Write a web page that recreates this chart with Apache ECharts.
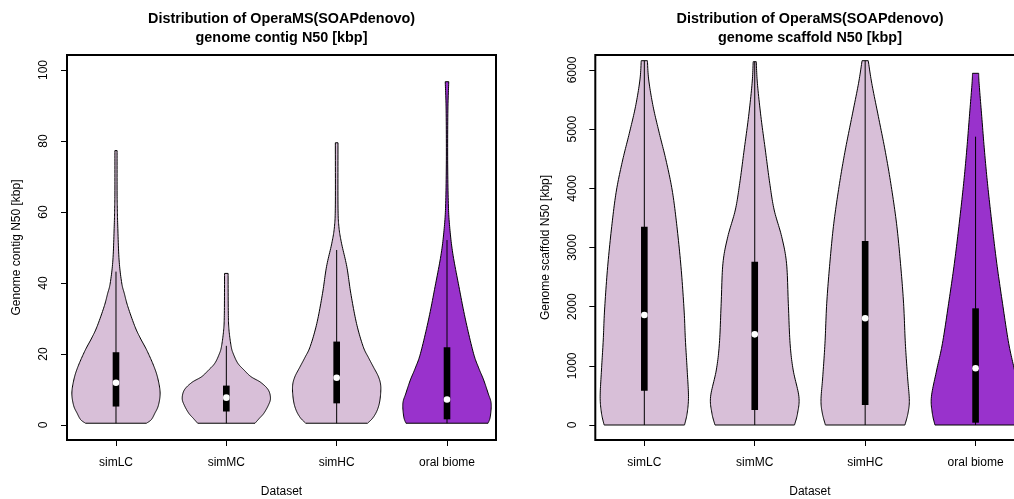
<!DOCTYPE html>
<html><head><meta charset="utf-8">
<script src="https://cdn.jsdelivr.net/npm/echarts@6/dist/echarts.min.js"></script>
<style>html,body{margin:0;padding:0;background:#fff}#c{width:1014px;height:499px}</style>
</head><body><div id="c"></div>
<script>
const categories = ['simLC', 'simMC', 'simHC', 'oral biome'];
const violinColors = ['#D8BFD8', '#D8BFD8', '#D8BFD8', '#9932CC'];

// Contig N50 violin outlines: [value (kbp), relative half-width]
const contigSimLC = [[0.5,0.69],[1.5,0.8],[3.3,0.88],[5.5,0.96],[9,1.0],[13,0.95],[16.5,0.86],[21,0.7],[24.5,0.55],[27.7,0.43],[33.3,0.27],[37,0.19],[40,0.13],[46.5,0.07],[56,0.04],[61,0.03],[66,0.025],[77.3,0.025]];
const contigSimMC = [[0.5,0.65],[1.9,0.75],[3.3,0.85],[5.5,0.95],[7.5,1.0],[9.9,0.95],[12,0.78],[13.6,0.56],[15.5,0.4],[17.4,0.26],[20,0.16],[22.1,0.11],[26.8,0.06],[31.5,0.045],[42.7,0.04]];
const contigSimHC = [[0.5,0.7],[2,0.82],[4.2,0.92],[7,0.98],[10.8,1.0],[13.5,0.95],[16.4,0.83],[19,0.72],[22.1,0.6],[28.6,0.45],[37.1,0.32],[44.6,0.23],[51.2,0.11],[55.9,0.05],[62,0.03],[79.5,0.03]];
const contigOral = [[0.5,0.93],[2.3,0.98],[6.1,1.0],[9,0.93],[12.7,0.83],[16,0.72],[20.2,0.6],[29.6,0.42],[39,0.27],[48.4,0.13],[55.9,0.06],[62.4,0.03],[74.6,0.015],[88.7,0.02],[96.7,0.04]];

const contigWhiskerLow = [0.5, 0.5, 0.5, 0.5];
const contigQ1 = [5.2, 3.8, 6.1, 1.6];
const contigMedian = [11.9, 7.7, 13.3, 7.2];
const contigQ3 = [20.5, 11.1, 23.5, 21.9];
const contigWhiskerHigh = [43.2, 22.3, 49.3, 52.1];
const contigTicks = [0, 20, 40, 60, 80, 100];

// Scaffold N50 violin outlines: [value (kbp), relative half-width]
const scaffoldSimLC = [[0,0.91],[200,0.97],[478,1.0],[930,0.97],[1437,0.93],[1944,0.9],[2676,0.83],[3409,0.73],[3972,0.63],[4479,0.49],[4930,0.34],[5380,0.2],[5831,0.1],[6157,0.07]];
const scaffoldSimMC = [[0,0.9],[200,0.97],[478,1.0],[930,0.87],[1380,0.8],[2057,0.76],[2733,0.72],[3183,0.61],[3634,0.44],[4085,0.34],[4648,0.24],[5211,0.14],[5775,0.06],[6140,0.035]];
const scaffoldSimHC = [[0,0.9],[200,0.97],[422,1.0],[817,0.96],[1380,0.91],[2057,0.87],[2733,0.8],[3409,0.71],[4085,0.58],[4648,0.45],[5211,0.3],[5775,0.15],[6157,0.07]];
const scaffoldOral = [[0,0.92],[200,0.98],[478,1.0],[930,0.88],[1380,0.75],[2057,0.61],[2733,0.48],[3409,0.37],[4085,0.27],[4648,0.2],[5211,0.14],[5775,0.08],[5944,0.07]];

const scaffoldWhiskerLow = [0, 0, 0, 0];
const scaffoldQ1 = [580, 254, 338, 39];
const scaffoldMedian = [1859, 1532, 1803, 958];
const scaffoldQ3 = [3352, 2760, 3110, 1972];
const scaffoldWhiskerHigh = [6157, 6140, 6157, 4873];
const scaffoldTicks = [0, 1000, 2000, 3000, 4000, 5000, 6000];

const FONT = "'Liberation Sans', Arial, Helvetica, sans-serif";
const HALF = 0.4;     // max violin half-width, in category units
const BOXHALF = 0.03; // box half-width, in category units

function catmull(pts, n) {
  const out = [];
  for (let i = 0; i < pts.length - 1; i++) {
    const p0 = pts[Math.max(i - 1, 0)], p1 = pts[i], p2 = pts[i + 1], p3 = pts[Math.min(i + 2, pts.length - 1)];
    for (let s = 0; s < n; s++) {
      const t = s / n, t2 = t * t, t3 = t2 * t;
      const f = (a, b, c, d) => 0.5 * ((2 * b) + (-a + c) * t + (2 * a - 5 * b + 4 * c - d) * t2 + (-a + 3 * b - 3 * c + d) * t3);
      out.push([f(p0[0], p1[0], p2[0], p3[0]), f(p0[1], p1[1], p2[1], p3[1])]);
    }
  }
  out.push(pts[pts.length - 1]);
  return out;
}

function makeViolinSeries(outlines, low, q1, med, q3, high, axisIdx) {
  return {
    type: 'custom',
    xAxisIndex: axisIdx, yAxisIndex: axisIdx,
    clip: false,
    data: categories.map((c, i) => [i + 1, med[i]]),
    renderItem: function (params, api) {
      const i = params.dataIndex;
      const x = i + 1;
      const cx = api.coord([x, 0])[0];
      const right = outlines[i].map(([v, w]) => api.coord([x + HALF * w, v]));
      const rs = catmull(right, 12);
      const ls = rs.map(p => [2 * cx - p[0], p[1]]).reverse();
      const poly = rs.concat(ls);
      const pLow = api.coord([x, low[i]]), pHigh = api.coord([x, high[i]]);
      const b1 = api.coord([x - BOXHALF, q3[i]]), b2 = api.coord([x + BOXHALF, q1[i]]);
      const pm = api.coord([x, med[i]]);
      return {
        type: 'group',
        children: [
          { type: 'polygon', shape: { points: poly }, style: { fill: violinColors[i], stroke: '#000', lineWidth: 1 } },
          { type: 'line', shape: { x1: pLow[0], y1: pLow[1], x2: pHigh[0], y2: pHigh[1] }, style: { stroke: '#000', lineWidth: 1 } },
          { type: 'rect', shape: { x: b1[0], y: b1[1], width: b2[0] - b1[0], height: b2[1] - b1[1] }, style: { fill: '#000' } },
          { type: 'circle', shape: { cx: pm[0], cy: pm[1], r: 3.3 }, style: { fill: '#fff' } }
        ]
      };
    }
  };
}

function xAxisFor(idx) {
  return {
    type: 'value', gridIndex: idx, min: 0.556, max: 4.444,
    axisLine: { show: false, onZero: false },
    splitLine: { show: false },
    axisTick: { show: true, length: 6, customValues: [1, 2, 3, 4], lineStyle: { color: '#000', width: 1 } },
    axisLabel: { customValues: [1, 2, 3, 4], formatter: v => categories[Math.round(v) - 1], margin: 17, fontSize: 12, color: '#000', fontFamily: FONT },
    name: 'Dataset', nameLocation: 'middle', nameGap: 46,
    nameTextStyle: { fontSize: 12, color: '#000', fontFamily: FONT }
  };
}

function yAxisFor(idx, min, max, ticks, name) {
  return {
    type: 'value', gridIndex: idx, min: min, max: max,
    axisLine: { show: false, onZero: false },
    splitLine: { show: false },
    axisTick: { show: true, length: 6, customValues: ticks, lineStyle: { color: '#000', width: 1 } },
    axisLabel: { customValues: ticks, formatter: v => String(v), rotate: 90, margin: 17, fontSize: 12, color: '#000', fontFamily: FONT },
    name: name, nameLocation: 'middle', nameGap: 44,
    nameTextStyle: { fontSize: 12, color: '#000', fontFamily: FONT }
  };
}

const chart = echarts.init(document.getElementById('c'), null, { renderer: 'canvas' });
chart.setOption({
  animation: false,
  backgroundColor: '#fff',
  title: [
    { text: 'Distribution of OperaMS(SOAPdenovo)\ngenome contig N50 [kbp]', left: 281.5, top: 10, padding: 0, textAlign: 'center',
      textStyle: { fontSize: 14.4, fontWeight: 'bold', color: '#000', fontFamily: FONT, lineHeight: 18.4 } },
    { text: 'Distribution of OperaMS(SOAPdenovo)\ngenome scaffold N50 [kbp]', left: 810, top: 10, padding: 0, textAlign: 'center',
      textStyle: { fontSize: 14.4, fontWeight: 'bold', color: '#000', fontFamily: FONT, lineHeight: 18.4 } }
  ],
  grid: [
    { left: 67, top: 55, width: 429, height: 385, show: true, borderColor: '#000', borderWidth: 2, backgroundColor: 'transparent', outerBoundsMode: 'none', containLabel: false },
    { left: 595.3, top: 55, width: 429.3, height: 385, show: true, borderColor: '#000', borderWidth: 2, backgroundColor: 'transparent', outerBoundsMode: 'none', containLabel: false }
  ],
  xAxis: [xAxisFor(0), xAxisFor(1)],
  yAxis: [
    yAxisFor(0, -4.225, 104.225, contigTicks, 'Genome contig N50 [kbp]'),
    yAxisFor(1, -253.5, 6253.5, scaffoldTicks, 'Genome scaffold N50 [kbp]')
  ],
  series: [
    makeViolinSeries([contigSimLC, contigSimMC, contigSimHC, contigOral], contigWhiskerLow, contigQ1, contigMedian, contigQ3, contigWhiskerHigh, 0),
    makeViolinSeries([scaffoldSimLC, scaffoldSimMC, scaffoldSimHC, scaffoldOral], scaffoldWhiskerLow, scaffoldQ1, scaffoldMedian, scaffoldQ3, scaffoldWhiskerHigh, 1)
  ]
});
</script>
</body></html>
